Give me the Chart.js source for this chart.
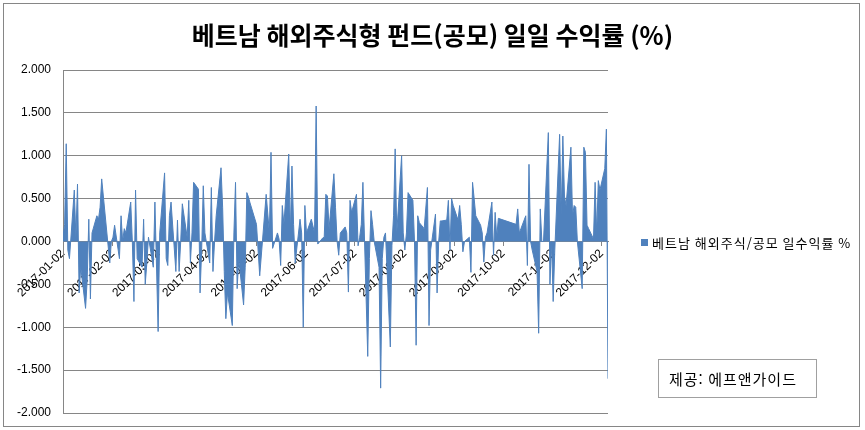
<!DOCTYPE html>
<html lang="ko">
<head>
<meta charset="utf-8">
<title>베트남 해외주식형 펀드(공모) 일일 수익률 (%)</title>
<script src="https://cdn.jsdelivr.net/npm/chart.js@4.4.1/dist/chart.umd.min.js"></script>
<style>
  html, body { margin: 0; padding: 0; background: #fff; }
  #wrap { width: 865px; height: 430px; }
</style>
</head>
<body>
<div id="wrap"><canvas id="grafico" width="865" height="430"></canvas></div>
<script>
// Datos: fechas de negociación (días hábiles de Corea, 2017) y rentabilidad diaria (%)
const tradingDates = [
    '2017-01-02', '2017-01-03', '2017-01-04', '2017-01-05', '2017-01-06', '2017-01-09', '2017-01-10', '2017-01-11', '2017-01-12', '2017-01-13',
    '2017-01-16', '2017-01-17', '2017-01-18', '2017-01-19', '2017-01-20', '2017-01-23', '2017-01-24', '2017-01-25', '2017-01-26', '2017-01-31',
    '2017-02-01', '2017-02-02', '2017-02-03', '2017-02-06', '2017-02-07', '2017-02-08', '2017-02-09', '2017-02-10', '2017-02-13', '2017-02-14',
    '2017-02-15', '2017-02-16', '2017-02-17', '2017-02-20', '2017-02-21', '2017-02-22', '2017-02-23', '2017-02-24', '2017-02-27', '2017-02-28',
    '2017-03-02', '2017-03-03', '2017-03-06', '2017-03-07', '2017-03-08', '2017-03-09', '2017-03-10', '2017-03-13', '2017-03-14', '2017-03-15',
    '2017-03-16', '2017-03-17', '2017-03-20', '2017-03-21', '2017-03-22', '2017-03-23', '2017-03-24', '2017-03-27', '2017-03-28', '2017-03-29',
    '2017-03-30', '2017-03-31',
    '2017-04-03', '2017-04-04', '2017-04-05', '2017-04-06', '2017-04-07', '2017-04-10', '2017-04-11', '2017-04-12', '2017-04-13', '2017-04-14',
    '2017-04-17', '2017-04-18', '2017-04-19', '2017-04-20', '2017-04-21', '2017-04-24', '2017-04-25', '2017-04-26', '2017-04-27', '2017-04-28',
    '2017-05-02', '2017-05-04', '2017-05-08', '2017-05-10', '2017-05-11', '2017-05-12', '2017-05-15', '2017-05-16', '2017-05-17', '2017-05-18',
    '2017-05-19', '2017-05-22', '2017-05-23', '2017-05-24', '2017-05-25', '2017-05-26', '2017-05-29', '2017-05-30', '2017-05-31',
    '2017-06-01', '2017-06-02', '2017-06-05', '2017-06-07', '2017-06-08', '2017-06-09', '2017-06-12', '2017-06-13', '2017-06-14', '2017-06-15',
    '2017-06-16', '2017-06-19', '2017-06-20', '2017-06-21', '2017-06-22', '2017-06-23', '2017-06-26', '2017-06-27', '2017-06-28', '2017-06-29',
    '2017-06-30',
    '2017-07-03', '2017-07-04', '2017-07-05', '2017-07-06', '2017-07-07', '2017-07-10', '2017-07-11', '2017-07-12', '2017-07-13', '2017-07-14',
    '2017-07-17', '2017-07-18', '2017-07-19', '2017-07-20', '2017-07-21', '2017-07-24', '2017-07-25', '2017-07-26', '2017-07-27', '2017-07-28',
    '2017-07-31',
    '2017-08-01', '2017-08-02', '2017-08-03', '2017-08-04', '2017-08-07', '2017-08-08', '2017-08-09', '2017-08-10', '2017-08-11', '2017-08-14',
    '2017-08-16', '2017-08-17', '2017-08-18', '2017-08-21', '2017-08-22', '2017-08-23', '2017-08-24', '2017-08-25', '2017-08-28', '2017-08-29',
    '2017-08-30', '2017-08-31',
    '2017-09-01', '2017-09-04', '2017-09-05', '2017-09-06', '2017-09-07', '2017-09-08', '2017-09-11', '2017-09-12', '2017-09-13', '2017-09-14',
    '2017-09-15', '2017-09-18', '2017-09-19', '2017-09-20', '2017-09-21', '2017-09-22', '2017-09-25', '2017-09-26', '2017-09-27', '2017-09-28',
    '2017-09-29',
    '2017-10-10', '2017-10-11', '2017-10-12', '2017-10-13', '2017-10-16', '2017-10-17', '2017-10-18', '2017-10-19', '2017-10-20', '2017-10-23',
    '2017-10-24', '2017-10-25', '2017-10-26', '2017-10-27', '2017-10-30', '2017-10-31',
    '2017-11-01', '2017-11-02', '2017-11-03', '2017-11-06', '2017-11-07', '2017-11-08', '2017-11-09', '2017-11-10', '2017-11-13', '2017-11-14',
    '2017-11-15', '2017-11-16', '2017-11-17', '2017-11-20', '2017-11-21', '2017-11-22', '2017-11-23', '2017-11-24', '2017-11-27', '2017-11-28',
    '2017-11-29', '2017-11-30',
    '2017-12-01', '2017-12-04', '2017-12-05', '2017-12-06'
];

const dailyReturns = [
    0.05, 0.2, 1.14, -0.1, -0.2, 0.6, 0.05, 0.67, -0.6, -0.3,
    -0.78, -0.45, 0.26, -0.67, 0.1, 0.3, 0.26, 0.4, 0.73, -0.25,
    0.0, 0.05, 0.19, -0.2, 0.3, 0.0, 0.15, 0.1, 0.46, 0.0,
    -0.7, 0.6, -0.2, -0.3, 0.26, -0.5, -0.25, 0.05, -0.3, 0.46,
    -1.05, 0.1, 0.8, -0.2, -0.28, 0.3, 0.46, -0.35, 0.25, -0.35,
    0.0, 0.44, 0.05, 0.48, -0.25, 0.1, 0.69, 0.61, -0.6, -0.1,
    0.65, 0.1,
    -0.25, 0.63, -0.35, 0.0, 0.3, 0.86, 0.4, -0.35, -0.9, -0.6,
    -0.98, 0.1, 0.69, -0.55, -0.2, -0.74, -0.3, 0.57, 0.52, 0.45,
    0.2, -0.4, 0.55, 0.1, 1.04, -0.08, 0.1, 0.03, -0.28, 0.42,
    0.2, 1.02, 0.1, 0.88, 0.2, -0.25, 0.26, 0.1, -1.0,
    0.42, 0.1, 0.26, 0.1, 1.58, -0.03, 0.04, 0.05, 0.55, 0.53,
    0.15, 0.79, 0.4, 0.0, -0.16, 0.1, 0.17, 0.1, -0.59, 0.48,
    0.34,
    0.55, -0.05, 0.05, 0.2, 0.69, -1.34, -0.2, 0.36, 0.2, 0.0,
    -0.3, -1.71, -0.2, 0.05, 0.1, -1.23, -0.05, 0.3, 1.08, 0.1,
    1.0,
    0.1, -0.1, 0.1, 0.57, 0.48, 0.0, -1.21, 0.3, 0.22, 0.15,
    0.63, -0.98, -0.1, 0.32, -0.6, 0.0, 0.24, 0.24, 0.25, 0.48,
    -0.1, 0.5,
    0.42, 0.25, 0.42, 0.2, -0.12, 0.0, 0.05, -0.36, 0.69, 0.5,
    0.3, 0.19, 0.1, -0.24, 0.05, 0.1, 0.46, -0.16, 0.34, 0.05,
    0.27,
    0.2, 0.38, 0.1, 0.15, 0.3, -0.28, 0.9, 0.0, -0.1, -0.35,
    -1.07, 0.38, 0.0, 0.0, 1.27, -0.5,
    0.0, -0.7, -0.1, 1.25, 0.3, 1.23, 0.53, 0.42, 1.1, 0.3,
    0.42, 0.4, 0.0, -0.55, 1.1, 1.04, 0.19, 0.15, 0.03, 0.69,
    0.1, 0.71,
    0.6, 0.85, 1.31, -1.6
];

// Etiquetas del eje X (una por mes)
const tickLabels = [
    '2017-01-02', '2017-02-02', '2017-03-02', '2017-04-02', '2017-05-02', '2017-06-02',
    '2017-07-02', '2017-08-02', '2017-09-02', '2017-10-02', '2017-11-02', '2017-12-02'
];

const yTicks = [-2, -1.5, -1, -0.5, 0, 0.5, 1, 1.5, 2];

const chartTitle = '베트남 해외주식형 펀드(공모) 일일 수익률 (%)';
const seriesLabel = '베트남 해외주식/공모 일수익률 %';
const sourceNote = '제공: 에프앤가이드';

const seriesColor = '#4F81BD';
const gridColor = '#868686';

// días transcurridos desde el 2 de enero
function toDay(str) {
    const [y, m, d] = str.split('-').map(Number);
    return (Date.UTC(y, m - 1, d) - Date.UTC(2017, 0, 2)) / 86400000;
}

const puntos = tradingDates.map((f, i) => ({ x: toDay(f), y: dailyReturns[i] }));

// marco exterior, leyenda y recuadro de fuente
const extrasPlugin = {
    id: 'extras',
    afterDraw(chart) {
        const { ctx, chartArea } = chart;
        ctx.save();

        ctx.strokeStyle = gridColor;
        ctx.lineWidth = 1;
        ctx.strokeRect(3.5, 3.5, 856, 423);

        // Leyenda
        const lx = chartArea.right + 33;
        const ly = Math.round((chartArea.top + chartArea.bottom) / 2);
        ctx.fillStyle = seriesColor;
        ctx.fillRect(lx, ly - 3, 7, 7);
        ctx.fillStyle = '#000';
        ctx.font = '13px "Noto Sans CJK KR"';
        ctx.letterSpacing = '1px';
        ctx.textBaseline = 'middle';
        ctx.textAlign = 'left';
        ctx.fillText(chart.data.datasets[0].label, lx + 11, ly + 1);

        // Fuente
        ctx.strokeStyle = '#a0a0a0';
        ctx.strokeRect(658.5, 359.5, 158, 38);
        ctx.font = '15px "Noto Sans CJK KR"';
        ctx.fillText(sourceNote, 669, 379);

        ctx.restore();
    }
};

new Chart(document.getElementById('grafico'), {
    type: 'line',
    data: {
        datasets: [{
            label: seriesLabel,
            data: puntos,
            fill: 'origin',
            backgroundColor: seriesColor,
            borderColor: seriesColor,
            borderWidth: 1,
            pointRadius: 0,
            tension: 0
        }]
    },
    options: {
        responsive: false,
        animation: false,
        devicePixelRatio: 1,
        layout: {
            padding: { left: 10, right: 10, top: 0, bottom: 17 }
        },
        plugins: {
            legend: { display: false },
            tooltip: { enabled: false },
            title: {
                display: true,
                text: chartTitle,
                color: '#000',
                font: { family: '"Noto Sans CJK KR"', size: 25, weight: 'bold' },
                padding: { top: 20, bottom: 20 }
            }
        },
        scales: {
            x: {
                type: 'linear',
                position: { y: 0 },
                min: 0,
                max: toDay(tradingDates[tradingDates.length - 1]),
                afterBuildTicks: (scale) => {
                    scale.ticks = tickLabels.map(s => ({ value: toDay(s) }));
                },
                afterFit: (scale) => {
                    scale.paddingTop = 0;
                    scale.paddingBottom = 0;
                },
                ticks: {
                    autoSkip: false,
                    minRotation: 45,
                    maxRotation: 45,
                    padding: 1,
                    color: '#000',
                    font: { family: '"Liberation Sans"', size: 12 },
                    callback: (value, index) => tickLabels[index]
                },
                grid: { drawOnChartArea: false, drawTicks: true, tickLength: 4, color: gridColor },
                border: { color: gridColor }
            },
            y: {
                min: yTicks[0],
                max: yTicks[yTicks.length - 1],
                afterFit: (scale) => {
                    scale.width = 53;
                    scale.paddingBottom = 0;
                },
                afterBuildTicks: (scale) => {
                    scale.ticks = yTicks.map(v => ({ value: v }));
                },
                ticks: {
                    padding: 12,
                    color: '#000',
                    font: { family: '"Liberation Sans"', size: 12 },
                    callback: (v) => Number(v).toFixed(3)
                },
                grid: { color: gridColor, drawTicks: false },
                border: { color: gridColor }
            },
            // espacio a la derecha para la leyenda y la nota de fuente
            espacio: {
                axis: 'y',
                position: 'right',
                min: yTicks[0],
                max: yTicks[yTicks.length - 1],
                afterFit: (scale) => {
                    scale.width = 247;
                    scale.paddingBottom = 0;
                },
                ticks: { display: false },
                grid: { display: false },
                border: { display: false }
            }
        }
    },
    plugins: [extrasPlugin]
});
</script>
</body>
</html>
